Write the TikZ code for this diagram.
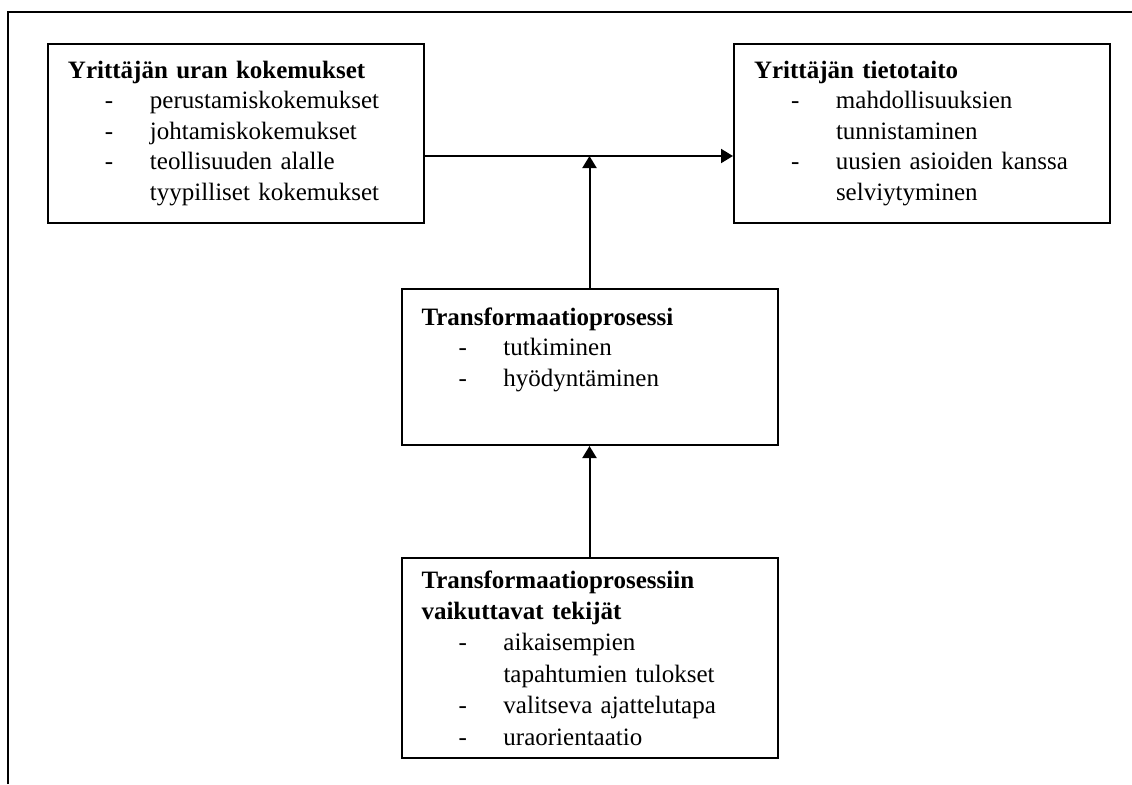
\documentclass[tikz,border=0pt]{standalone}
\usepackage{fontspec}
\setmainfont{Liberation Serif}
\usepackage{tikz}
\usetikzlibrary{arrows.meta,positioning,calc}

\newcommand{\dashitem}[1]{\hspace*{18.5pt}\makebox[22.5pt][l]{-}#1}
\newcommand{\contitem}[1]{\hspace*{41pt}#1}

\begin{document}
\begin{tikzpicture}[
  x=0.5pt,y=-0.5pt,>={Triangle[length=6pt,width=7pt]},
  flow/.style={->,line width=1pt},
  boxnode/.style={draw,line width=1pt,inner xsep=10pt,inner ysep=0pt,
    minimum height=#1,text width=168pt,align=left},
  boxnode/.default=89.5pt,
  every node/.style={font=\fontsize{12.5pt}{15.25pt}\selectfont}
]
  \useasboundingbox (0,0) rectangle (1132,784);
  % frame
  \draw[line width=1pt] (8,784) -- (8,12) -- (1132,12);

  \node[boxnode] (career) at (236,133.5)
    {\textbf{Yrittäjän uran kokemukset}\\
     \dashitem{perustamiskokemukset}\\
     \dashitem{johtamiskokemukset}\\
     \dashitem{teollisuuden alalle}\\
     \contitem{tyypilliset kokemukset}};
  \node[boxnode] (knowhow) at (922,133.5)
    {\textbf{Yrittäjän tietotaito}\\
     \dashitem{mahdollisuuksien}\\
     \contitem{tunnistaminen}\\
     \dashitem{uusien asioiden kanssa}\\
     \contitem{selviytyminen}};
  \node[boxnode=78pt] (transform) at (589.5,367)
    {\textbf{Transformaatioprosessi}\\
     \dashitem{tutkiminen}\\
     \dashitem{hyödyntäminen}\\[5pt]
     \mbox{}};
  \node[boxnode=100pt,font=\fontsize{12.5pt}{15.7pt}\selectfont] (factors)
    at (589.5,658)
    {\textbf{Transformaatioprosessiin}\\
     \textbf{vaikuttavat tekijät}\\
     \dashitem{aikaisempien}\\
     \contitem{tapahtumien tulokset}\\
     \dashitem{valitseva ajattelutapa}\\
     \dashitem{uraorientaatio}};

  \coordinate (flowline) at ([yshift=-11.25pt]career.east);
  \draw[flow] (flowline) -- (flowline -| knowhow.west);
  \draw[flow] (transform.north) -- (transform.north |- flowline);
  \draw[flow] (factors.north) -- (transform.south);
\end{tikzpicture}
\end{document}
